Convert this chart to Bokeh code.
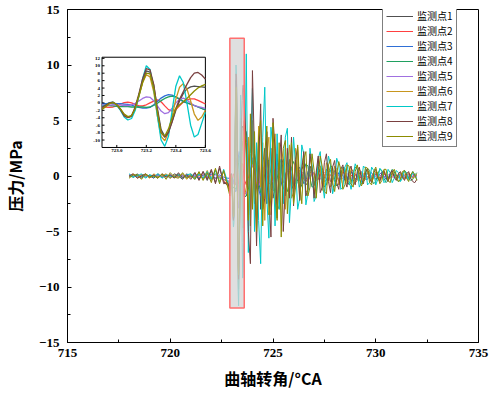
import numpy as np
from bokeh.plotting import figure
from bokeh.models import Range1d, FixedTicker
from bokeh.embed import file_html
from bokeh.resources import INLINE
from bokeh.core.properties import value

# ---------------- data ----------------
# sample positions (crank angle, degCA)
x_pre = np.round(np.arange(718.0, 722.81, 0.2), 3)     # quiet part
x_mid = np.round(np.arange(722.9, 723.601, 0.025), 3)  # zoomed window
x_post = np.round(np.arange(723.7, 732.01, 0.1), 3)    # decaying part
x_all = np.concatenate([x_pre, x_mid, x_post])

names = ["监测点1", "监测点2", "监测点3", "监测点4", "监测点5",
         "监测点6", "监测点7", "监测点8", "监测点9"]
colors = ["#505050", "#ff4040", "#2f6fd6", "#20a060", "#a070e0",
          "#c8961e", "#00c8c8", "#7a4040", "#8c8c00"]

s1_pre = [0.1,-0.1,0.2,-0.2,0.1,0.0,-0.2,0.2,-0.1,0.1,-0.2,0.2,0.0,-0.3,0.2,-0.1,0.3,-0.3,0.4,-0.4,0.5,-0.6,0.7,-0.5,-0.9]
s1_mid = [-1.5,-0.8,-0.1,0.1,-0.6,-1.8,-3.2,-3.9,-3.6,-1.5,2.0,5.8,8.6,8.3,4.8,-1.5,-7.2,-9.0,-7.8,-5.0,-2.0,0.5,2.5,3.8,4.3,4.5,4.4,4.3,4.2]
s1_post = [4.0,2.0,-3.5,4.5,-2.5,-1.0,3.5,-3.0,1.0,2.5,
           -2.5,1.5,2.5,-2.0,-1.0,2.0,-1.5,1.0,1.5,-1.8,
           0.5,1.5,-1.2,-0.8,1.4,0.2,-1.2,0.6,1.0,-0.8,
           -0.6,0.9,0.4,-0.8,-0.3,0.8,0.3,-0.7,-0.2,0.6,
           0.4,-0.5,-0.3,0.5,0.3,-0.5,-0.2,0.4,0.2,-0.4,
           -0.2,0.4,0.2,-0.3,-0.1,0.3,0.1,-0.3,-0.1,0.3,
           0.1,-0.3,-0.1,0.2,0.1,-0.2,-0.1,0.2,0.1,-0.2,
           0.0,0.2,0.1,-0.2,0.0,0.2,0.0,-0.2,0.0,0.1,
           0.0,-0.1,0.0,0.1]

s2_pre = [0.0,0.1,-0.1,0.1,0.0,-0.1,0.1,0.0,-0.1,0.1,0.0,-0.1,0.1,0.0,-0.1,0.1,-0.1,0.0,0.1,-0.1,0.1,-0.2,0.0,-0.4,-0.8]
s2_mid = [-1.0,-1.1,-1.2,-1.1,-0.8,-0.3,0.1,0.2,0.0,-0.4,-0.8,-0.8,-0.5,0.0,0.5,0.8,0.3,-0.8,-1.8,-2.2,-1.8,-0.8,0.2,0.8,1.1,1.1,0.7,0.2,-0.3]
s2_post = [-0.8,-0.2,0.6,1.0,0.4,-0.6,-1.0,-0.3,0.6,0.9,
           0.2,-0.6,-0.8,-0.1,0.6,0.7,0.0,-0.6,-0.6,0.1,
           0.6,0.5,-0.2,-0.5,-0.4,0.2,0.5,0.3,-0.3,-0.5,
           -0.2,0.3,0.4,0.1,-0.4,-0.3,0.2,0.4,0.1,-0.3,
           -0.3,0.1,0.3,0.2,-0.2,-0.3,0.0,0.3,0.2,-0.2,
           -0.3,0.0,0.2,0.2,-0.1,-0.2,-0.1,0.2,0.2,-0.1,
           -0.2,0.0,0.2,0.1,-0.1,-0.2,0.0,0.2,0.1,-0.1,
           -0.2,0.0,0.1,0.1,-0.1,-0.1,0.0,0.1,0.1,-0.1,
           -0.1,0.0,0.1,0.0]

s3_pre = [-0.1,0.1,0.0,-0.1,0.1,0.0,-0.1,0.1,-0.1,0.0,0.1,-0.1,0.0,0.1,-0.1,0.0,0.1,-0.2,0.1,-0.1,0.2,-0.2,0.1,-0.1,-0.2]
s3_mid = [-0.2,-0.2,-0.1,-0.1,-0.2,-0.2,-0.3,-0.4,-0.6,-0.9,-1.2,-1.4,-1.4,-1.2,-0.5,0.4,1.3,1.9,2.2,2.1,1.6,0.9,0.3,0.0,-0.3,-0.7,-1.1,-1.5,-1.9]
s3_post = [-1.8,-1.0,0.5,1.5,2.0,0.8,-1.2,-1.8,-0.5,1.0,
           1.5,0.5,-1.2,-1.3,0.2,1.3,1.0,-0.6,-1.2,-0.3,
           0.9,1.0,-0.2,-0.9,-0.6,0.5,0.8,0.1,-0.7,-0.5,
           0.4,0.7,0.0,-0.6,-0.4,0.3,0.6,0.1,-0.5,-0.4,
           0.3,0.5,0.0,-0.5,-0.3,0.3,0.5,0.0,-0.4,-0.3,
           0.3,0.4,0.0,-0.4,-0.3,0.2,0.4,0.0,-0.3,-0.3,
           0.2,0.3,0.0,-0.3,-0.2,0.2,0.3,0.0,-0.3,-0.2,
           0.2,0.3,0.0,-0.2,-0.2,0.1,0.2,0.0,-0.2,-0.2,
           0.1,0.2,0.0,-0.1]

s4_pre = [0.0,-0.1,0.1,0.0,-0.1,0.1,0.0,-0.1,0.1,0.0,-0.1,0.0,0.1,-0.1,0.0,0.1,-0.1,0.1,-0.2,0.1,-0.1,0.2,-0.2,-0.3,-0.5]
s4_mid = [-0.6,-0.6,-0.7,-0.8,-0.9,-1.0,-1.0,-1.0,-1.1,-1.1,-1.1,-1.1,-1.2,-1.1,-0.7,-0.1,0.6,1.2,1.6,1.8,1.6,1.1,0.5,0.0,-0.3,-0.7,-1.1,-1.5,-1.9]
s4_post = [-1.8,-1.2,0.0,1.2,1.8,1.0,-0.5,-1.5,-1.2,0.2,
           1.3,1.4,0.2,-1.2,-1.5,-0.3,1.0,1.5,0.6,-0.9,
           -1.4,-0.6,0.7,1.3,0.8,-0.5,-1.2,-0.8,0.4,1.1,
           0.9,-0.2,-1.0,-0.9,0.1,1.0,0.9,-0.2,-1.0,-0.8,
           0.2,0.9,0.8,-0.3,-0.9,-0.7,0.2,0.8,0.7,-0.3,
           -0.8,-0.6,0.3,0.8,0.6,-0.3,-0.7,-0.5,0.3,0.7,
           0.5,-0.3,-0.7,-0.5,0.2,0.6,0.5,-0.2,-0.6,-0.4,
           0.2,0.6,0.4,-0.2,-0.5,-0.4,0.2,0.5,0.3,-0.2,
           -0.4,-0.3,0.1,0.3]

s5_pre = [0.1,0.0,-0.1,0.1,0.0,-0.1,0.0,0.1,0.0,-0.1,0.1,0.0,-0.1,0.0,0.1,-0.1,0.0,0.1,-0.1,0.2,-0.2,0.1,-0.1,-0.3,-0.4]
s5_mid = [-0.5,-0.6,-0.6,-0.5,-0.5,-0.6,-0.7,-0.7,-0.5,-0.1,0.5,1.2,1.6,1.5,0.6,-0.8,-2.2,-2.9,-2.6,-1.4,0.0,1.0,1.3,0.8,0.0,-0.7,-1.0,-1.2,-1.5]
s5_post = [-1.6,-0.8,0.4,1.0,0.6,-0.4,-0.9,-0.5,0.3,0.8,
           0.5,-0.3,-0.7,-0.4,0.3,0.6,0.3,-0.3,-0.6,-0.2,
           0.3,0.5,0.2,-0.3,-0.5,-0.2,0.3,0.4,0.1,-0.3,
           -0.4,-0.1,0.3,0.3,0.0,-0.3,-0.3,0.1,0.3,0.2,
           -0.2,-0.3,-0.1,0.2,0.3,0.0,-0.2,-0.2,0.1,0.2,
           0.1,-0.2,-0.2,0.0,0.2,0.1,-0.1,-0.2,0.0,0.2,
           0.1,-0.1,-0.2,0.0,0.1,0.1,-0.1,-0.1,0.0,0.1,
           0.1,-0.1,-0.1,0.0,0.1,0.1,-0.1,-0.1,0.0,0.1,
           0.0,-0.1,0.0,0.1]

s6_pre = [-0.1,0.2,-0.2,0.1,0.1,-0.2,0.2,-0.1,0.0,0.2,-0.2,0.1,-0.1,0.2,-0.3,0.2,-0.2,0.3,-0.3,0.5,-0.4,0.6,-0.5,0.4,-0.8]
s6_mid = [-1.3,-0.7,-0.1,0.2,-0.5,-1.7,-3.2,-3.9,-3.5,-1.5,1.8,5.5,7.6,7.0,3.0,-3.5,-9.0,-10.2,-8.0,-3.5,1.0,4.2,5.2,3.8,0.5,-3.0,-4.7,-3.8,-2.0]
s6_post = [-1.0,3.5,-4.5,5.0,-2.0,-4.0,4.5,-1.0,3.0,-4.0,
           2.0,3.5,-3.5,-1.0,3.8,-2.5,-3.0,2.5,1.5,-3.0,
           1.0,2.8,-2.0,-1.5,2.5,0.5,-2.2,1.0,1.8,-1.5,
           -1.2,1.6,0.8,-1.6,-0.5,1.5,0.8,-1.3,-0.6,1.2,
           0.8,-1.0,-0.7,0.9,0.6,-0.8,-0.6,0.7,0.5,-0.7,
           -0.4,0.7,0.4,-0.6,-0.4,0.6,0.3,-0.5,-0.3,0.5,
           0.3,-0.5,-0.2,0.4,0.3,-0.4,-0.2,0.4,0.2,-0.4,
           -0.1,0.4,0.2,-0.3,-0.1,0.3,0.1,-0.3,-0.1,0.3,
           0.1,-0.2,-0.1,0.2]

s7_pre = [0.2,-0.1,0.0,0.2,-0.2,0.1,-0.1,0.2,-0.2,0.1,0.0,-0.1,0.2,-0.2,0.1,0.2,-0.3,0.2,-0.2,0.4,-0.3,0.5,-0.6,0.6,-0.6]
s7_mid = [-1.0,-0.5,0.1,0.2,-0.6,-2.0,-3.8,-4.6,-4.2,-2.0,2.0,6.5,10.0,9.0,4.0,-3.5,-10.0,-11.7,-9.0,-2.0,4.5,7.3,5.5,0.0,-6.0,-9.2,-8.5,-5.5,-2.5]
s7_post = [11.0,-6.9,2.0,7.9,-5.0,3.0,-4.0,-7.9,3.5,8.0,
           -2.0,-5.6,4.4,2.5,-4.5,3.8,-3.0,1.5,-2.5,3.5,
           4.3,-4.2,-1.0,3.5,1.0,-3.0,-2.0,2.8,2.0,-2.6,
           -1.5,2.5,1.0,-2.3,-1.8,1.6,2.2,-0.5,-2.0,0.2,
           1.8,1.0,-1.6,-0.8,1.6,1.0,-1.2,-1.0,0.8,1.2,
           -0.4,-1.2,0.0,1.1,0.6,-1.0,-0.6,0.9,0.7,-0.8,
           -0.6,0.8,0.5,-0.8,-0.3,0.7,0.4,-0.6,-0.4,0.6,
           0.3,-0.6,-0.2,0.5,0.3,-0.5,-0.2,0.5,0.2,-0.4,
           -0.2,0.4,0.1,-0.3]

s8_pre = [0.0,0.2,-0.2,0.0,0.2,-0.1,0.1,-0.2,0.2,-0.1,0.1,-0.2,0.3,-0.2,0.1,-0.3,0.3,-0.4,0.4,-0.3,0.6,-0.7,0.9,-0.7,-0.6]
s8_mid = [-1.2,-0.6,0.0,0.2,-0.5,-1.8,-3.5,-4.0,-3.5,-1.0,2.5,6.5,9.2,8.9,5.0,-2.0,-8.0,-9.3,-8.0,-5.0,-1.5,1.0,3.0,5.0,6.8,8.0,8.2,7.5,6.4]
s8_post = [3.0,-5.0,-7.9,9.5,2.0,-6.3,1.0,6.5,-3.0,-2.0,
           4.0,-1.5,-5.5,5.2,2.5,-3.8,1.0,3.7,-5.0,-1.0,
           2.5,-2.0,3.5,-2.7,1.5,2.6,-2.2,0.5,2.2,-1.8,
           -1.2,2.0,0.6,-2.0,0.3,1.8,-1.5,-1.0,1.2,2.0,
           -0.5,-1.5,0.8,1.4,-0.6,-1.2,0.6,1.0,-0.4,-1.0,
           0.5,0.9,-0.3,-0.8,0.4,0.8,-0.2,-0.7,0.3,0.7,
           -0.2,-0.6,0.3,0.6,-0.2,-0.5,0.3,0.5,-0.1,-0.5,
           0.2,0.5,-0.1,-0.4,0.2,0.4,-0.1,-0.4,0.2,0.4,
           -0.2,-0.5,-0.6,-0.3]

s9_pre = [-0.2,0.1,0.1,-0.3,0.2,-0.1,0.0,-0.2,0.2,-0.3,0.3,-0.1,-0.2,0.3,-0.2,0.0,-0.3,0.4,-0.4,0.3,-0.6,0.7,-0.7,0.5,-1.0]
s9_mid = [-1.8,-1.0,-0.2,0.1,-0.5,-1.6,-3.0,-3.7,-3.4,-1.5,2.0,5.5,8.0,7.8,4.0,-2.5,-8.0,-8.9,-7.0,-4.0,-1.5,-0.5,0.3,1.2,2.2,3.2,4.0,4.6,5.0]
s9_post = [2.0,-4.0,5.6,-3.0,4.0,-5.0,3.5,5.0,-4.5,2.0,
           4.5,-3.5,-2.0,4.8,-1.5,-4.0,3.0,-5.5,2.5,3.2,
           -3.4,0.5,3.0,-2.5,-1.0,2.8,-0.5,-2.5,1.5,2.2,
           -1.8,-1.0,2.0,0.5,-2.0,0.0,1.8,0.8,-1.4,-1.6,
           1.0,1.5,-0.6,-1.4,0.2,1.3,0.6,-1.2,-0.8,1.0,
           0.9,-0.7,-1.0,0.4,1.0,0.0,-0.9,-0.5,0.8,0.7,
           -0.6,-0.8,0.4,0.8,0.0,-0.7,-0.4,0.6,0.6,-0.4,
           -0.6,0.2,0.6,0.1,-0.5,-0.3,0.4,0.5,-0.2,-0.5,
           0.1,0.4,0.1,-0.4]

series = [
    s1_pre + s1_mid + s1_post, s2_pre + s2_mid + s2_post, s3_pre + s3_mid + s3_post,
    s4_pre + s4_mid + s4_post, s5_pre + s5_mid + s5_post, s6_pre + s6_mid + s6_post,
    s7_pre + s7_mid + s7_post, s8_pre + s8_mid + s8_post, s9_pre + s9_mid + s9_post,
]
for s in series:
    assert len(s) == len(x_all), (len(s), len(x_all))

X_TICKS = [715, 720, 725, 730, 735]
X_MINOR = [717.5, 722.5, 727.5, 732.5]
Y_TICKS = [-15, -10, -5, 0, 5, 10, 15]
Y_MINOR = [-12.5, -7.5, -2.5, 2.5, 7.5, 12.5]

# zoom window (highlighted box and inset ranges)
ZOOM_X = (722.9, 723.6)
BOX_Y = (-11.9, 12.4)
INSET_Y = (-12.0, 12.3)
INSET_X_TICKS = [723.0, 723.2, 723.4, 723.6]
INSET_Y_TICKS = [-10, -8, -6, -4, -2, 0, 2, 4, 6, 8, 10, 12]
# where the inset sits, in main-plot data units
INSET_AT_X = (716.68, 721.71)
INSET_AT_Y = (2.57, 10.70)

# ---------------- figure ----------------
p = figure(width=490, height=394, x_range=Range1d(715, 735), y_range=Range1d(-15, 15),
           output_backend="svg", toolbar_location=None,
           min_border_left=63, min_border_right=12, min_border_top=9, min_border_bottom=52)
p.xgrid.visible = False
p.ygrid.visible = False
p.outline_line_color = "black"
p.outline_line_width = 1
p.outline_line_alpha = 1

for ax, tk, mn in ((p.xaxis[0], X_TICKS, X_MINOR), (p.yaxis[0], Y_TICKS, Y_MINOR)):
    ax.ticker = FixedTicker(ticks=tk, minor_ticks=mn)
    ax.major_tick_in = 4
    ax.major_tick_out = 0
    ax.minor_tick_in = 3
    ax.minor_tick_out = 0
    ax.axis_line_color = "black"
    ax.major_tick_line_color = "black"
    ax.minor_tick_line_color = "black"
    ax.major_label_text_font = "Liberation Serif"
    ax.major_label_text_font_style = "bold"
    ax.major_label_text_font_size = "13px"
    ax.major_label_text_color = "black"
    ax.axis_label_text_font = "Noto Sans CJK SC"
    ax.axis_label_text_font_style = "bold"
    ax.axis_label_text_font_size = "16px"
    ax.axis_label_text_color = "black"

p.xaxis.axis_label = "曲轴转角/°CA"
p.yaxis.axis_label = "压力/MPa"
p.xaxis.major_label_standoff = 6
p.xaxis.axis_label_standoff = 6
p.yaxis.major_label_standoff = 8
p.yaxis.axis_label_standoff = 9

for ys, nm, c in zip(series, names, colors):
    p.line(x_all, ys, line_color=c, line_width=1, legend_label=nm)

# highlighted zoom window
p.quad(left=ZOOM_X[0], right=ZOOM_X[1], bottom=BOX_Y[0], top=BOX_Y[1],
       fill_color="#d4d4d4", fill_alpha=0.75, line_color="#ff6f6f", line_width=1.5)

# inset (sub-coordinate system)
sub = p.subplot(x_source=Range1d(*ZOOM_X), y_source=Range1d(*INSET_Y),
                x_target=Range1d(*INSET_AT_X), y_target=Range1d(*INSET_AT_Y))
sub.quad(left=ZOOM_X[0], right=ZOOM_X[1], bottom=INSET_Y[0], top=INSET_Y[1],
         fill_color="white", line_color="black", line_width=1)
n0 = len(x_pre)
n1 = n0 + len(x_mid)
for ys, c in zip(series, colors):
    sub.line(x_mid, ys[n0:n1], line_color=c, line_width=1.3)
dx = (ZOOM_X[1] - ZOOM_X[0]) / 104.0
dy = (INSET_Y[1] - INSET_Y[0]) / 90.0
sub.segment(x0=ZOOM_X[0], x1=ZOOM_X[0] + 2.5 * dx, y0=INSET_Y_TICKS, y1=INSET_Y_TICKS,
            line_color="black", line_width=1)
sub.segment(x0=INSET_X_TICKS, x1=INSET_X_TICKS, y0=INSET_Y[0], y1=INSET_Y[0] + 2.5 * dy,
            line_color="black", line_width=1)
sub.text(x=[ZOOM_X[0] - 2 * dx] * len(INSET_Y_TICKS), y=INSET_Y_TICKS,
         text=[str(v) for v in INSET_Y_TICKS], text_font=value("Liberation Serif"),
         text_font_size="5px", text_font_style="bold", text_align="right",
         text_baseline="middle", text_color="black")
sub.text(x=INSET_X_TICKS, y=[INSET_Y[0] - 1.5 * dy] * len(INSET_X_TICKS),
         text=["%.1f" % v for v in INSET_X_TICKS], text_font=value("Liberation Serif"),
         text_font_size="5px", text_font_style="bold", text_align="center",
         text_baseline="top", text_color="black")

lg = p.legend[0]
lg.location = (315, 195)
lg.border_line_color = "black"
lg.border_line_width = 1
lg.background_fill_color = "white"
lg.background_fill_alpha = 1
lg.label_text_font = "Noto Sans CJK SC"
lg.label_text_font_size = "10px"
lg.label_text_color = "black"
lg.glyph_width = 27
lg.glyph_height = 14
lg.label_height = 14
lg.label_standoff = 4
lg.spacing = 0
lg.padding = 3
lg.margin = 0

open("out.html", "w").write(file_html(p, INLINE))
